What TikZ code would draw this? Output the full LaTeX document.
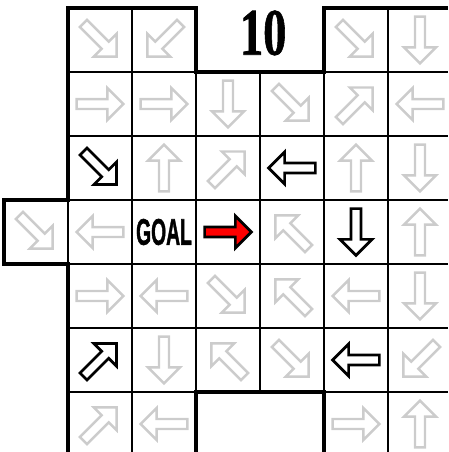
\documentclass[tikz,border=0pt]{standalone}
\usepackage{fontspec}
\setmainfont{Liberation Serif}[BoldFeatures={FakeBold=1.2}]
\newfontfamily\goalfont{Liberation Sans}[BoldFeatures={FakeBold=1.6}]
\usepackage{graphicx}
\usetikzlibrary{positioning}
\usepackage{xcolor}
\definecolor{ArrGray}{RGB}{204, 204, 204}
\definecolor{GoalRed}{RGB}{255, 0, 0}

\tikzset{
  pics/blockarr/.style={code={
    \draw[#1] (-0.365,-0.078) -- (0.115,-0.078) -- (0.115,-0.25) -- (0.365,0)
      -- (0.115,0.25) -- (0.115,0.078) -- (-0.365,0.078) -- cycle;
  }}
}

\begin{document}
\begin{tikzpicture}[
      cellline/.style={line width=0.9pt},
      outline/.style={line width=1.35pt},
      grayarr/.style={draw=ArrGray, fill=white, line width=1.1pt},
      blackarr/.style={draw=black, fill=white, line width=1.2pt},
      redarr/.style={draw=black, fill=GoalRed, line width=1.2pt}
    ]
      \useasboundingbox (-0.0625,0.125) rectangle (6.9375,-6.9375);
      \clip (-0.0625,0.125) rectangle (6.9375,-6.9375);

      % cells
      \foreach \r in {1,...,5}
        \foreach \c in {1,...,6}
          \draw[cellline] (\c,-\r) rectangle ++(1,-1);
      \foreach \c/\r in {1/0, 2/0, 5/0, 6/0, 1/6, 2/6, 5/6, 6/6, 0/3}
        \draw[cellline] (\c,-\r) rectangle ++(1,-1);

      % outer border
      \draw[outline] (1,0) -- (3,0) -- (3,-1) -- (5,-1) -- (5,0) -- (7,0)
        -- (7,-7) -- (5,-7) -- (5,-6) -- (3,-6) -- (3,-7) -- (1,-7)
        -- (1,-4) -- (0,-4) -- (0,-3) -- (1,-3) -- cycle;

      % arrows
      \foreach \c/\r/\a in {1/0/315, 2/0/225, 5/0/315, 6/0/270,
                            1/1/0, 2/1/0, 3/1/270, 4/1/315, 5/1/45, 6/1/180,
                            2/2/90, 3/2/45, 5/2/90, 6/2/270,
                            0/3/315, 1/3/180, 4/3/135, 6/3/90,
                            1/4/0, 2/4/180, 3/4/315, 4/4/135, 5/4/180, 6/4/270,
                            2/5/270, 3/5/135, 4/5/315, 6/5/225,
                            1/6/45, 2/6/180, 5/6/0, 6/6/90}
        \pic[rotate=\a] at (\c+0.5,-\r-0.5) {blockarr=grayarr};
      \foreach \c/\r/\a in {1/2/315, 4/2/180, 5/3/270, 1/5/45, 5/5/180}
        \pic[rotate=\a] at (\c+0.5,-\r-0.5) {blockarr=blackarr};
      \pic at (3.5,-3.5) {blockarr=redarr};

      % labels
      \node[inner sep=0pt] (ten) at (4.05,-0.39)
        {\scalebox{0.7}[1]{\fontsize{29.5}{32}\selectfont\bfseries 10}};
      \node[inner sep=0pt] (goal) at (2.5,-3.5)
        {\scalebox{0.52}[1]{\goalfont\fontsize{16.5}{18}\selectfont\bfseries GOAL}};
    \end{tikzpicture}
\end{document}
